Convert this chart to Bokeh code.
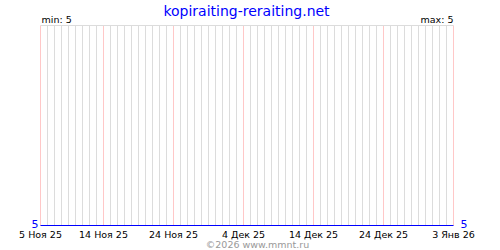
from datetime import date
from bokeh.plotting import figure
from bokeh.models import Range1d, Label, ColumnDataSource
from bokeh.core.properties import value
from bokeh.embed import file_html
from bokeh.resources import INLINE
import pandas as pd

title_text = "kopiraiting-reraiting.net"
start_day = date(2025, 11, 5)
end_day = date(2026, 1, 3)
days = pd.date_range(start_day, end_day, freq="D")
values = [5] * len(days)
tick_dates = [date(2025, 11, 5), date(2025, 11, 14), date(2025, 11, 24), date(2025, 12, 4),
              date(2025, 12, 14), date(2025, 12, 24), date(2026, 1, 3)]
tick_labels = ["5 Ноя 25", "14 Ноя 25", "24 Ноя 25", "4 Дек 25", "14 Дек 25", "24 Дек 25", "3 Янв 26"]
vmin, vmax = min(values), max(values)

FONT = "DejaVu Sans"
W, H = 500, 250
# layout: plot area 40..453 px horizontally (7 px/day), 25..225 px vertically
px_day = 7.0
left_px, right_px = 40, W - 453
top_px, bottom_px = 25, H - 225
ytop = vmax + 1
px_unit = 200.0

p = figure(width=W, height=H, output_backend="svg", toolbar_location=None,
           x_axis_type="datetime",
           x_range=Range1d(pd.Timestamp(start_day) - pd.Timedelta(days=left_px / px_day),
                           pd.Timestamp(end_day) + pd.Timedelta(days=right_px / px_day)),
           y_range=Range1d(vmin - bottom_px / px_unit, ytop + top_px / px_unit),
           min_border=0)
p.xaxis.visible = False
p.yaxis.visible = False
p.xgrid.visible = False
p.ygrid.visible = False
p.outline_line_color = None
p.background_fill_color = "white"
p.border_fill_color = "white"

tick_ts = set(pd.Timestamp(d) for d in tick_dates)
gray = [d for d in days if d not in tick_ts]
red = [d for d in days if d in tick_ts]
p.segment(x0=gray, x1=gray, y0=[vmin] * len(gray), y1=[ytop] * len(gray), line_color="#dcdcdc", line_width=1)
p.segment(x0=red, x1=red, y0=[vmin] * len(red), y1=[ytop] * len(red), line_color="#ffc8c8", line_width=1)
p.segment(x0=[days[0]], x1=[days[-1]], y0=[ytop], y1=[ytop], line_color="#dcdcdc", line_width=1)
p.line(x=days, y=values, line_color="#0000ff", line_width=1.2)

# date labels under the plot area
src = ColumnDataSource(dict(x=[pd.Timestamp(d) for d in tick_dates], y=[vmin] * len(tick_dates), t=tick_labels))
p.text(x="x", y="y", text="t", source=src, y_offset=9, text_align="center", text_baseline="middle",
       text_font=value(FONT), text_font_size="9.5px", text_color="black")

def lab(text, x, y, color="black", size="9.5px", align="left"):
    p.add_layout(Label(x=x, y=y, x_units="screen", y_units="screen", text=text, text_color=color,
                       text_font=FONT, text_font_size=size, text_align=align, text_baseline="middle"))

lab(title_text, 246, 240, color="#0000ff", size="14px", align="center")
lab(f"min: {vmin}", 41, 231)
lab(f"max: {vmax}", 453, 231, align="right")
lab(str(vmin), 38, 27, color="#0000ff", size="11px", align="right")
lab(str(vmax), 460, 27, color="#0000ff", size="11px", align="left")
lab("©2026 www.mmnt.ru", 257, 6, color="#999999", size="9.5px", align="center")

open("out.html", "w").write(file_html(p, INLINE))
